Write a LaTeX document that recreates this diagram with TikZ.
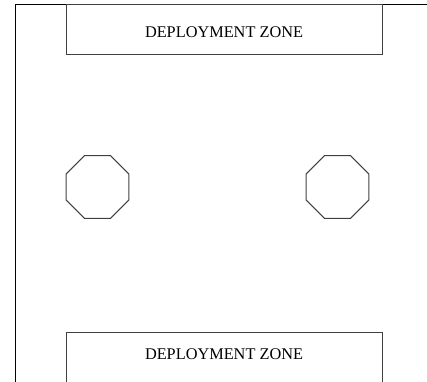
\documentclass[tikz,border=0pt]{standalone}
\usepackage{fontspec}
\setmainfont{Liberation Serif}
\usetikzlibrary{shapes.geometric}

\begin{document}
\begin{tikzpicture}[x=1pt,y=-1pt,line width=1pt,
  zone/.style={draw=black!75},
  zonelabel/.style={font=\fontsize{16.3}{18}\selectfont,inner sep=0pt},
  pillar/.style={draw=black!75,regular polygon,regular polygon sides=8,minimum size=68pt,inner sep=0pt}]
\useasboundingbox (0,0) rectangle (427,381);
% table edge
\draw (15,382) -- (15,4) -- (428,4);
% deployment zones
\draw[zone] (66,4) rectangle (382,54);
\node[zonelabel] (topzone) at (224,32) {DEPLOYMENT ZONE};
\draw[zone] (66,382) -- (66,332) -- (382,332) -- (382,382);
\node[zonelabel] (bottomzone) at (224,354) {DEPLOYMENT ZONE};
% terrain
\node[pillar] (leftpillar) at (97.5,187) {};
\node[pillar] (rightpillar) at (337.5,187) {};
\end{tikzpicture}
\end{document}
